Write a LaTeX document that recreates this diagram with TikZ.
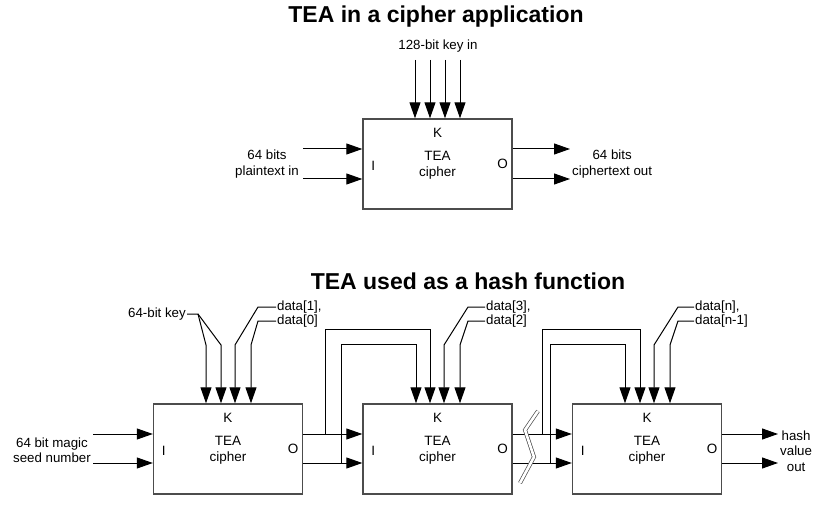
\documentclass[tikz,border=0pt]{standalone}
\usepackage{fontspec}
\setmainfont{Liberation Sans}
\usetikzlibrary{calc,arrows.meta}
\tikzset{
	cipher/.style={draw=black!70, line width=1.4pt, minimum width=149pt, minimum height=90pt, inner sep=0pt},
	port/.style={inner sep=0pt, font=\fontsize{13.5}{16}\selectfont},
	lbl/.style={inner sep=1pt, align=center, font=\fontsize{13.3}{15.5}\selectfont},
	ttl/.style={inner sep=0pt, font=\fontsize{23}{27}\selectfont\bfseries},
	wire/.style={line width=1pt, draw=black},
	arr/.style={wire, -{Triangle[length=16pt,width=11pt]}},
}
\def\teabox(#1)(#2,#3){%
	\node[cipher] (#1) at (#2,#3) {};
	\node[port] (#1-k) at ($(#1.north)+(0,15)$) {K};
	\node[port, align=center] (#1-t) at ($(#1.center)+(0,1)$) {TEA\\cipher};
	\node[port] (#1-i) at ($(#1.west)+(11,1.5)$) {I};
	\node[port] (#1-o) at ($(#1.east)+(-10,0)$) {O};
}

\begin{document}
\begin{tikzpicture}[x=1pt,y=-1pt]
			\useasboundingbox (0,0) rectangle (831,508);
			%%%%% CIPHER %%%%%
			\node[ttl] (t1) at (436,17) {TEA in a cipher application};
			\teabox(c0)(437.5,164)
			
			\node[lbl] (keyin) at (438,46) {128-bit key in};
			\coordinate (ka) at (415,60);
			\coordinate (kb) at (430,60);
			\coordinate (kc) at (445,60);
			\coordinate (kd) at (460,60);
			\draw[arr] (ka) -- (ka |- c0.north);
			\draw[arr] (kb) -- (kb |- c0.north);
			\draw[arr] (kc) -- (kc |- c0.north);
			\draw[arr] (kd) -- (kd |- c0.north);
			
			\node[lbl, anchor=east] (pin) at (300,164) {64 bits\\plaintext in};
			\coordinate (pa) at (303,149);
			\coordinate (pb) at (303,179);
			\draw[arr] (pa) -- (pa -| c0.west);
			\draw[arr] (pb) -- (pb -| c0.west);
			
			\coordinate (ca) at (570,149);
			\coordinate (cb) at (570,179);
			\draw[arr] (c0.east |- ca) -- (ca);
			\draw[arr] (c0.east |- cb) -- (cb);
			\node[lbl, anchor=west] (cout) at (571,164) {64 bits\\ciphertext out};
			
			%%%%% HASH %%%%%
			\node[ttl] (t2) at (468,281) {TEA used as a hash function};
			\teabox(h1)(228,449)
			\teabox(h2)(437.5,449)
			\teabox(h3)(647,449)
			
			% chain I -> O
			\node[lbl, anchor=east] (seed) at (92,450) {64 bit magic\\seed number};
			\coordinate (sa) at (93,434);
			\coordinate (sb) at (93,463);
			\draw[arr] (sa) -- (sa -| h1.west);
			\draw[arr] (sb) -- (sb -| h1.west);
			\draw[arr] (h1.east |- sa) -- (h2.west |- sa);
			\draw[arr] (h1.east |- sb) -- (h2.west |- sb);
			\draw[arr] (h2.east |- sa) -- (h3.west |- sa);
			\draw[arr] (h2.east |- sb) -- (h3.west |- sb);
			\coordinate (oa) at (778,434);
			\coordinate (ob) at (778,463);
			\draw[arr] (h3.east |- oa) -- (oa);
			\draw[arr] (h3.east |- ob) -- (ob);
			\node[lbl, anchor=west] (hash) at (779,451) {hash\\value\\out};
			
			% keys of the first block
			\node[lbl, anchor=east] (key) at (187,314) {64-bit key};
			\coordinate (kk) at (198,314);
			\draw[arr] (key.east) -- (kk) -- (206,345) -- (206,0 |- h1.north);
			\draw[arr] (kk) -- (221,345) -- (221,0 |- h1.north);
			\node[lbl, anchor=west] (d1) at (276,307) {data[1],};
			\node[lbl, anchor=west] (d0) at (276,321) {data[0]};
			\draw[arr] (d1.west) -- (258,307) -- (235,345) -- (235,0 |- h1.north);
			\draw[arr] (d0.west) -- (258,321) -- (251,345) -- (251,0 |- h1.north);
			
			% keys of the second block
			\coordinate (f1a) at (325,434);
			\coordinate (f1b) at (341,463);
			\draw[arr] (f1a) -- (325,329) -- (430,329) -- (430,0 |- h2.north);
			\draw[arr] (f1b) -- (341,344) -- (416,344) -- (416,0 |- h2.north);
			\node[lbl, anchor=west] (d3) at (485,307) {data[3],};
			\node[lbl, anchor=west] (d2) at (485,321) {data[2]};
			\draw[arr] (d3.west) -- (468,307) -- (444,345) -- (444,0 |- h2.north);
			\draw[arr] (d2.west) -- (468,321) -- (460,345) -- (460,0 |- h2.north);
			
			% keys of the last block
			\coordinate (f2a) at (542,434);
			\coordinate (f2b) at (550,463);
			\draw[arr] (f2a) -- (542,329) -- (640,329) -- (640,0 |- h3.north);
			\draw[arr] (f2b) -- (550,344) -- (625,344) -- (625,0 |- h3.north);
			\node[lbl, anchor=west] (dn) at (694,307) {data[n],};
			\node[lbl, anchor=west] (dm) at (694,321) {data[n-1]};
			\draw[arr] (dn.west) -- (678,307) -- (654,345) -- (654,0 |- h3.north);
			\draw[arr] (dm.west) -- (678,321) -- (670,345) -- (670,0 |- h3.north);
			
			% break
			\draw[draw=black!70, line width=0.7pt, double=white, double distance=2.6pt] (538,411) -- (525,430) -- (534,457) -- (520,483);
			%%%%% END %%%%%
		\end{tikzpicture}
\end{document}
